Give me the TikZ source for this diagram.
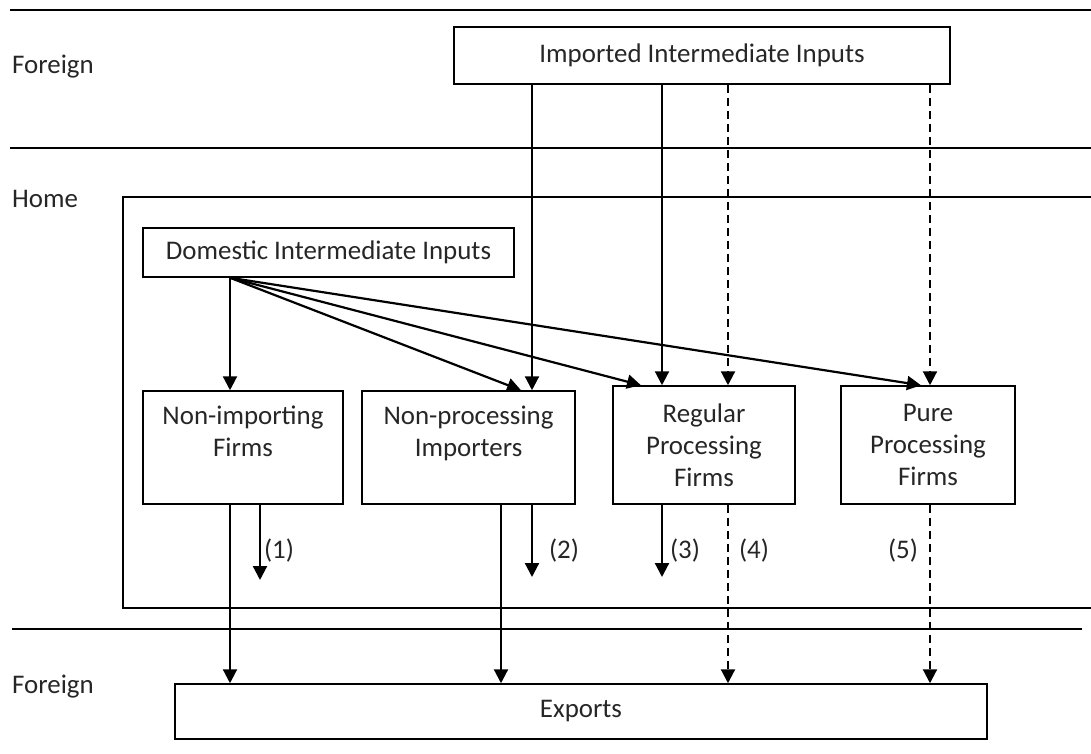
\documentclass[tikz,border=0pt]{standalone}
\usepackage{fontspec}
\setmainfont{Carlito}
\usetikzlibrary{arrows.meta}
\begin{document}
\begin{tikzpicture}[x=1bp,y=-1bp,
  box/.style={draw, line width=1.5bp, inner sep=0pt, align=center, text=black!85, font=\fontsize{27}{32}\selectfont},
  lab/.style={font=\fontsize{27}{32}\selectfont, text=black!85, inner sep=0pt},
  arr/.style={line width=2.2bp, -{Triangle[width=14bp,length=14bp]}},
  dsharr/.style={arr, dash pattern=on 8bp off 5bp},
  sepline/.style={line width=1.4bp}]
\useasboundingbox (0,0) rectangle (1091,754);

% separators and home region
\draw[sepline] (10,10) -- (1091,10);
\draw[sepline] (10,148) -- (1091,148);
\draw[sepline] (12,629) -- (1082,629);
\draw[sepline] (1095,197) -- (123,197) -- (123,608) -- (1095,608);

% region labels
\node[lab, anchor=west] (f1) at (12,67) {Foreign};
\node[lab, anchor=west] (h1) at (12,199) {Home};
\node[lab, anchor=west] (f2) at (12,687) {Foreign};

% boxes
\node[box, minimum width=496bp, minimum height=57bp] (imp) at (702,55.5) {Imported Intermediate Inputs};
\node[box, minimum width=371bp, minimum height=49bp] (dom) at (328.5,252.5) {Domestic Intermediate Inputs};
\node[box, minimum width=200bp, minimum height=113bp] (nonimp) at (243,447.5) {Non-importing\\Firms\\~};
\node[box, minimum width=213bp, minimum height=113bp] (nonproc) at (468.5,447.5) {Non-processing\\Importers\\~};
\node[box, minimum width=182bp, minimum height=118bp] (reg) at (704,445) {Regular\\Processing\\Firms};
\node[box, minimum width=174bp, minimum height=118bp] (pure) at (928,445) {Pure\\Processing\\Firms};
\node[box, minimum width=812bp, minimum height=55bp] (exp) at (581,711.5) {Exports};

% column coordinates
\coordinate (xa) at (230,0);
\coordinate (xb) at (260,0);
\coordinate (xc) at (501,0);
\coordinate (xd) at (532,0);
\coordinate (xe) at (662,0);
\coordinate (xf) at (728,0);
\coordinate (xg) at (930,0);
\coordinate (t1) at (521,0);
\coordinate (t2) at (641,0);
\coordinate (t3) at (921,0);

% imported inputs
\draw[arr] (imp.south -| xd) -- (nonproc.north -| xd);
\draw[arr] (imp.south -| xe) -- (reg.north -| xe);
\draw[dsharr] (imp.south -| xf) -- (reg.north -| xf);
\draw[dsharr] (imp.south -| xg) -- (pure.north -| xg);

% domestic inputs
\draw[arr] (dom.south -| xa) -- (nonimp.north -| xa);
\draw[arr] (dom.south -| xa) -- (nonproc.north -| t1);
\draw[arr] (dom.south -| xa) -- (reg.north -| t2);
\draw[arr] (dom.south -| xa) -- (pure.north -| t3);

% exports
\draw[arr] (nonimp.south -| xa) -- (exp.north -| xa);
\draw[arr] (nonproc.south -| xc) -- (exp.north -| xc);
\draw[dsharr] (reg.south -| xf) -- (exp.north -| xf);
\draw[dsharr] (pure.south -| xg) -- (exp.north -| xg);

% domestic sales
\coordinate (e1) at (260,580);
\coordinate (e2) at (532,577);
\coordinate (e3) at (662,577);
\draw[arr] (nonimp.south -| xb) -- (e1);
\draw[arr] (nonproc.south -| xd) -- (e2);
\draw[arr] (reg.south -| xe) -- (e3);

% labels
\node[lab] (l1) at (279,551) {(1)};
\node[lab] (l2) at (564,551) {(2)};
\node[lab] (l3) at (685,551) {(3)};
\node[lab] (l4) at (754,551) {(4)};
\node[lab] (l5) at (903,551) {(5)};
\end{tikzpicture}
\end{document}
